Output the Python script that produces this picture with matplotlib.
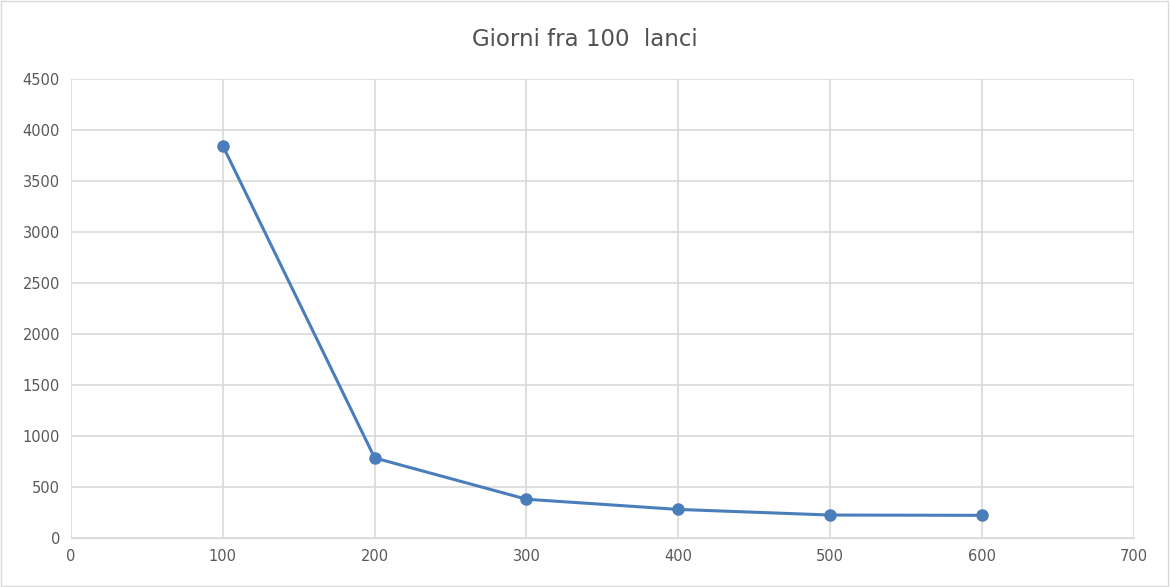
import matplotlib.pyplot as plt
from matplotlib.patches import Rectangle

# Dati
lanci = [100, 200, 300, 400, 500, 600]
giorni = [3845, 785, 380, 280, 225, 222]

x_ticks = [0, 100, 200, 300, 400, 500, 600, 700]
y_ticks = [0, 500, 1000, 1500, 2000, 2500, 3000, 3500, 4000, 4500]

blu = '#4a7ebb'
grigio_testo = '#595959'
grigio_griglia = '#d9d9d9'

fig = plt.figure(figsize=(11.7, 5.87), dpi=100)
ax = fig.add_axes([0.0607, 0.0835, 0.9083, 0.7819])

ax.plot(lanci, giorni, color=blu, linewidth=2.2, marker='o', markersize=8,
        markerfacecolor=blu, markeredgecolor=blu, zorder=3)

ax.set_xlim(0, 700)
ax.set_ylim(0, 4500)
ax.set_xticks(x_ticks)
ax.set_yticks(y_ticks)
ax.grid(True, color=grigio_griglia, linewidth=1.2)
ax.set_axisbelow(True)

for side in ['top', 'right', 'left']:
    ax.spines[side].set_visible(False)
ax.spines['bottom'].set_color(grigio_griglia)
ax.tick_params(length=0, labelsize=10.5, labelcolor=grigio_testo, pad=8)

fig.text(0.5, 0.932, 'Giorni fra 100  lanci', ha='center', va='center',
         fontsize=16.5, color='#505050')

# bordo esterno del grafico
fig.patches.append(Rectangle((0.001, 0.002), 0.997, 0.996, transform=fig.transFigure,
                             fill=False, edgecolor='#d9d9d9', linewidth=1))

fig.savefig('out.png', dpi=100)
